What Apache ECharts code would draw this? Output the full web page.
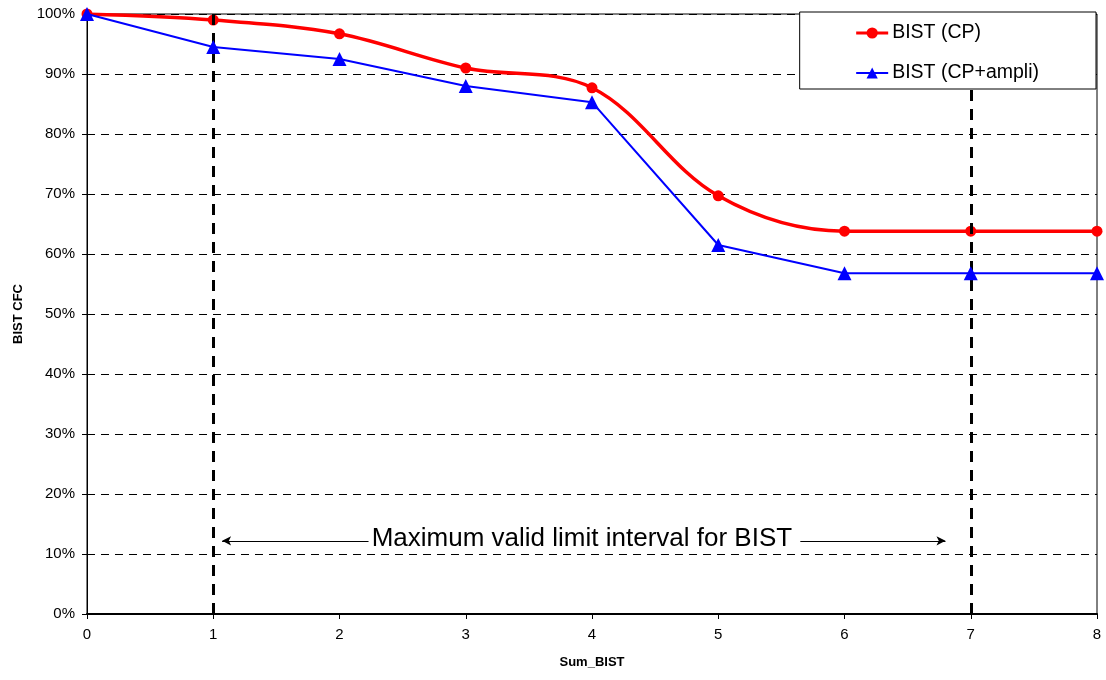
<!DOCTYPE html>
<html>
<head>
<meta charset="utf-8">
<script src="https://cdn.jsdelivr.net/npm/echarts@6/dist/echarts.min.js"></script>
<style>
html,body{margin:0;padding:0;background:#fff;}
#c{width:1106px;height:680px;}
</style>
</head>
<body>
<div id="c"></div>
<script>
const xValues = [0, 1, 2, 3, 4, 5, 6, 7, 8];
const cpValues = [100, 99.0, 96.7, 91.0, 87.7, 69.7, 63.8, 63.8, 63.8];
const cpAmpliValues = [100, 94.5, 92.5, 88.0, 85.3, 61.5, 56.8, 56.8, 56.8];
const seriesNames = ['BIST (CP)', 'BIST (CP+ampli)'];
const limitLines = [1, 7];
const annotationText = 'Maximum valid limit interval for BIST';
const leftArrow = [[2.23, 12.2], [1.07, 12.2]];
const rightArrow = [[5.65, 12.2], [6.8, 12.2]];
const annotationPos = [3.92, 12.6];

const font = '"Liberation Sans", Arial, sans-serif';
const chart = echarts.init(document.getElementById('c'), null, {renderer: 'canvas'});

const option = {
  backgroundColor: '#fff',
  animation: false,
  textStyle: {fontFamily: font},
  grid: {left: 87, right: 9, top: 14, bottom: 66, show: true, borderColor: '#000', borderWidth: 1, backgroundColor: 'transparent'},
  legend: {
    z: 50,
    zlevel: 1,
    data: [
      {name: seriesNames[0], lineStyle: {width: 3}},
      {name: seriesNames[1], lineStyle: {width: 2}}
    ],
    orient: 'vertical',
    right: 10,
    top: 12,
    backgroundColor: '#fff',
    borderColor: '#000',
    borderWidth: 1,
    padding: [11, 57, 6, 55],
    itemGap: 20,
    itemWidth: 32,
    itemHeight: 14,
    textStyle: {fontSize: 19.5, lineHeight: 20, color: '#000', fontFamily: font, padding: [0, 0, 0, -1]}
  },
  xAxis: {
    type: 'value',
    min: 0, max: 8, interval: 1,
    name: 'Sum_BIST',
    nameLocation: 'middle',
    nameGap: 42,
    nameTextStyle: {fontSize: 13, fontWeight: 'bold', color: '#000', verticalAlign: 'top'},
    axisLine: {show: true, lineStyle: {color: '#000', width: 2}},
    axisTick: {show: true, length: 5, lineStyle: {color: '#000'}},
    axisLabel: {fontSize: 15, color: '#000', margin: 13},
    splitLine: {show: false}
  },
  yAxis: {
    type: 'value',
    min: 0, max: 100, interval: 10,
    name: 'BIST CFC',
    nameLocation: 'middle',
    nameGap: 62,
    nameRotate: 90,
    nameTextStyle: {fontSize: 13, fontWeight: 'bold', color: '#000'},
    axisLine: {show: true, lineStyle: {color: '#000', width: 1}},
    axisTick: {show: true, length: 5, lineStyle: {color: '#000'}},
    axisLabel: {fontSize: 15, color: '#000', margin: 12, formatter: v => v + '%'},
    splitLine: {show: true, lineStyle: {color: '#000', width: 1, type: [8, 6]}}
  },
  series: [
    {
      name: seriesNames[0],
      type: 'line',
      smooth: 0.35,
      data: xValues.map((x, i) => [x, cpValues[i]]),
      symbol: 'circle',
      symbolSize: 11,
      lineStyle: {color: '#ff0000', width: 3.5},
      itemStyle: {color: '#ff0000'},
      z: 4
    },
    {
      name: seriesNames[1],
      type: 'line',
      data: xValues.map((x, i) => [x, cpAmpliValues[i]]),
      symbol: 'triangle',
      symbolSize: 14,
      lineStyle: {color: '#0000ff', width: 2},
      itemStyle: {color: '#0000ff'},
      z: 5
    },
    {
      name: 'annot',
      type: 'line',
      data: [],
      silent: true,
      z: 3,
      markLine: {
        silent: true,
        symbol: ['none', 'none'],
        label: {show: false},
        lineStyle: {color: '#000', width: 3, type: [11, 8]},
        data: limitLines.map(v => ({xAxis: v}))
      }
    },
    {
      name: 'arrows',
      type: 'line',
      data: [],
      silent: true,
      z: 3,
      markLine: {
        silent: true,
        symbol: ['none', 'arrow'],
        symbolSize: [7, 9],
        label: {show: false},
        lineStyle: {color: '#000', width: 1, type: 'solid'},
        data: [
          [{coord: leftArrow[0]}, {coord: leftArrow[1]}],
          [{coord: rightArrow[0]}, {coord: rightArrow[1]}]
        ]
      },
      markPoint: {
        silent: true,
        symbol: 'circle',
        symbolSize: 1,
        itemStyle: {color: 'rgba(0,0,0,0)'},
        label: {show: true, position: 'inside', formatter: annotationText, fontSize: 26, color: '#000', fontFamily: font},
        data: [{coord: annotationPos}]
      }
    }
  ]
};
chart.setOption(option);
</script>
</body>
</html>
